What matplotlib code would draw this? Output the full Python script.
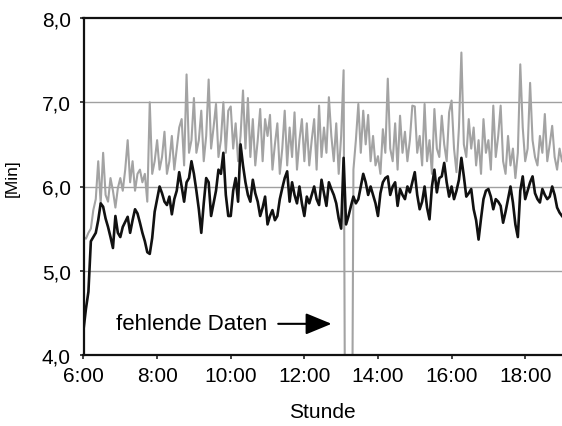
import numpy as np
import matplotlib
matplotlib.use("Agg")
import matplotlib.pyplot as plt

plt.rcParams['font.family'] = ['Liberation Sans', 'DejaVu Sans']

# sample times: every 4 minutes from 6:00 to 19:00
minutes = np.arange(0, 781, 4)

# upper (grey) series, values in minutes, one row per hour; 0 = missing data
grey_series = [
    5.40, 5.38, 5.45, 5.50, 5.72, 5.85, 6.30, 5.80, 6.40, 5.90, 5.82, 6.10, 5.95, 5.75, 5.98,   # 6
    6.10, 5.95, 6.20, 6.55, 6.05, 6.30, 5.95, 6.15, 6.20, 6.05, 6.15, 5.82, 7.00, 6.15, 6.30,   # 7
    6.55, 6.20, 6.35, 6.65, 6.15, 6.30, 6.60, 6.20, 6.45, 6.70, 6.80, 6.25, 7.33, 6.40, 6.55,   # 8
    7.05, 6.40, 6.55, 6.90, 6.30, 6.60, 7.27, 6.45, 6.70, 6.98, 6.35, 6.55, 7.00, 6.40, 6.90,   # 9
    6.95, 6.45, 6.75, 6.30, 6.60, 7.14, 6.45, 7.05, 6.35, 6.80, 6.25, 6.55, 6.92, 6.30, 6.80,   # 10
    6.60, 6.85, 6.20, 6.50, 6.75, 6.15, 6.45, 6.90, 6.25, 6.70, 6.35, 6.88, 6.20, 6.55, 6.80,   # 11
    6.30, 6.75, 6.25, 6.55, 6.80, 6.20, 6.96, 6.35, 6.70, 6.40, 7.06, 6.60, 6.30, 6.75, 6.15,   # 12
    6.60, 7.38, 0.00, 0.00, 0.00, 6.20, 6.55, 6.98, 6.40, 6.90, 6.50, 6.85, 6.30, 6.60, 6.25,   # 13
    6.36, 6.15, 6.68, 6.40, 7.28, 6.45, 6.30, 6.75, 6.20, 6.84, 6.40, 6.65, 6.30, 6.55, 6.96,   # 14
    6.95, 6.40, 6.60, 6.25, 6.98, 6.30, 6.55, 6.15, 6.92, 6.45, 6.35, 6.84, 6.50, 6.30, 6.88,   # 15
    7.02, 6.45, 6.17, 6.70, 7.59, 6.50, 6.35, 6.80, 6.45, 6.70, 6.25, 6.55, 6.15, 6.80, 6.40,   # 16
    6.55, 6.20, 6.96, 6.35, 6.60, 6.96, 6.30, 6.15, 6.60, 6.25, 6.45, 6.10, 6.40, 7.45, 6.70,   # 17
    6.30, 6.45, 7.23, 6.55, 6.35, 6.25, 6.60, 6.40, 6.86, 6.30, 6.50, 6.72, 6.35, 6.20, 6.45, 6.30,  # 18
]

# lower (black) series
black_series = [
    4.30, 4.55, 4.75, 5.35, 5.40, 5.45, 5.60, 5.80, 5.76, 5.62, 5.52, 5.40, 5.27, 5.65, 5.45,   # 6
    5.40, 5.52, 5.58, 5.64, 5.45, 5.60, 5.73, 5.68, 5.57, 5.45, 5.35, 5.22, 5.20, 5.39, 5.70,   # 7
    5.85, 6.00, 5.92, 5.82, 5.78, 5.88, 5.67, 5.85, 5.95, 6.17, 6.00, 5.82, 6.05, 6.10, 6.30,   # 8
    6.15, 5.95, 5.73, 5.45, 5.80, 6.10, 6.05, 5.65, 5.80, 5.95, 6.20, 6.15, 6.40, 5.90, 5.65,   # 9
    5.65, 5.95, 6.10, 5.82, 6.50, 6.25, 6.05, 5.90, 5.82, 6.08, 5.92, 5.82, 5.65, 5.75, 5.88,   # 10
    5.55, 5.65, 5.72, 5.60, 5.65, 5.85, 5.98, 6.10, 6.18, 5.82, 6.05, 5.90, 5.80, 6.00, 5.80,   # 11
    5.65, 5.88, 5.80, 5.90, 6.00, 5.85, 5.78, 6.08, 5.92, 5.77, 6.05, 5.97, 5.90, 5.80, 5.62,   # 12
    5.50, 6.34, 5.55, 5.65, 5.77, 5.88, 5.80, 5.85, 6.00, 6.15, 6.05, 5.90, 6.00, 5.90, 5.80,   # 13
    5.65, 5.92, 6.05, 6.10, 6.12, 5.90, 6.00, 6.05, 5.77, 5.97, 5.90, 5.85, 6.00, 5.93, 6.05,   # 14
    6.17, 5.90, 5.73, 5.82, 6.00, 5.75, 5.61, 6.00, 6.20, 5.93, 6.10, 6.12, 6.28, 6.05, 5.88,   # 15
    6.00, 5.85, 5.95, 6.08, 6.34, 6.12, 5.88, 5.92, 5.97, 5.73, 5.60, 5.37, 5.62, 5.85, 5.95,   # 16
    5.97, 5.88, 5.73, 5.85, 5.82, 5.77, 5.57, 5.70, 5.85, 6.00, 5.81, 5.55, 5.40, 5.95, 6.12,   # 17
    5.85, 5.95, 6.05, 6.12, 5.92, 5.85, 5.81, 5.97, 5.90, 5.85, 5.88, 6.00, 5.90, 5.75, 5.69, 5.65,  # 18
]

xtick_hours = [6, 8, 10, 12, 14, 16, 18]
xtick_labels = ['6:00', '8:00', '10:00', '12:00', '14:00', '16:00', '18:00']
ytick_values = [4, 5, 6, 7, 8]
ytick_labels = ['4,0', '5,0', '6,0', '7,0', '8,0']

hours = 6 + minutes / 60.0

fig = plt.figure(figsize=(5.62, 4.27), dpi=100)
ax = fig.add_axes([83.5 / 562, 1 - 356 / 427, (562 - 83.5) / 562, (356 - 19) / 427])

for v in [5, 6, 7]:
    ax.axhline(v, color='#a0a0a0', lw=1.0, zorder=1)

ax.plot(hours, grey_series, color='#a3a3a3', lw=1.5, zorder=2)
ax.plot(hours, black_series, color='#111111', lw=1.9, zorder=3)

ax.set_xlim(6, 19)
ax.set_ylim(4, 8)
ax.set_xticks(xtick_hours)
ax.set_xticklabels(xtick_labels)
ax.set_yticks(ytick_values)
ax.set_yticklabels(ytick_labels)
ax.tick_params(axis='both', labelsize=15, length=3, width=1.2, direction='out', color='#222222')
ax.tick_params(axis='x', pad=5)
ax.tick_params(axis='y', pad=6)

for side in ['left', 'bottom', 'top']:
    ax.spines[side].set_linewidth(1.6)
    ax.spines[side].set_color('#111111')
ax.spines['right'].set_visible(False)

ax.set_xlabel('Stunde', fontsize=15, labelpad=12)
ax.set_ylabel('[Min]', fontsize=12.5)
ax.yaxis.set_label_coords(-0.134, 0.528)

ax.text(6.88, 4.37, 'fehlende Daten', fontsize=16, va='center', ha='left')
ax.annotate('', xy=(12.74, 4.37), xytext=(11.29, 4.37),
            arrowprops=dict(arrowstyle='-|>,head_length=0.8,head_width=0.33',
                            mutation_scale=20, lw=1.5, color='black',
                            shrinkA=0, shrinkB=0))

fig.savefig('out.png', dpi=100)
